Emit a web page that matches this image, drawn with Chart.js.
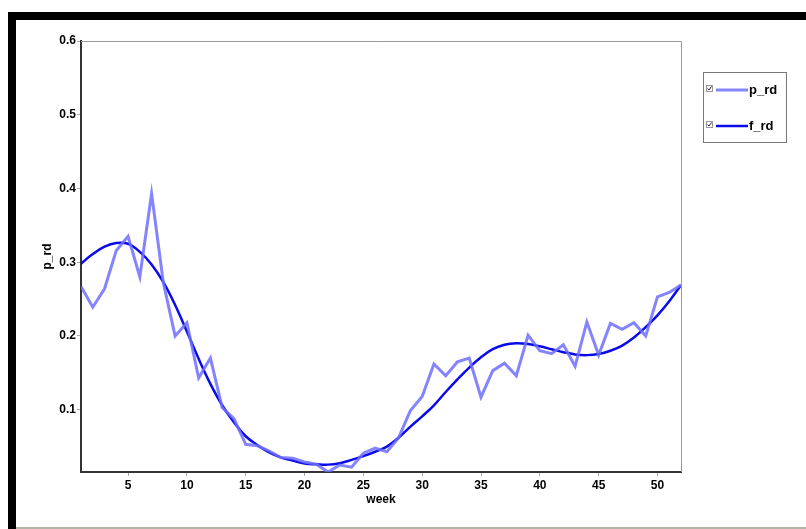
<!DOCTYPE html>
<html>
<head>
<meta charset="utf-8">
<script src="https://cdn.jsdelivr.net/npm/chart.js@4"></script>
<style>
    html, body { margin: 0; padding: 0; background: #fff; }
    #wrap { position: relative; width: 806px; height: 529px; overflow: hidden; }
    #frame-top { position: absolute; left: 8px; top: 12px; width: 798px; height: 8px; background: #000; }
    #frame-left { position: absolute; left: 8px; top: 12px; width: 8px; height: 517px; background: #000; }
    #frame-bottom { position: absolute; left: 16px; top: 527px; width: 790px; height: 2px; background: #b4b4a8; }
    canvas { position: absolute; left: 0; top: 0; }
</style>
</head>
<body>
<div id="wrap">
    <div id="frame-top"></div>
    <div id="frame-left"></div>
    <div id="frame-bottom"></div>
    <canvas id="chart" width="806" height="529"></canvas>
</div>
<script>
const weeks = [1, 2, 3, 4, 5, 6, 7, 8, 9, 10, 11, 12, 13, 14, 15, 16, 17, 18, 19, 20, 21, 22, 23, 24, 25, 26,
    27, 28, 29, 30, 31, 32, 33, 34, 35, 36, 37, 38, 39, 40, 41, 42, 43, 44, 45, 46, 47, 48, 49, 50, 51, 52];

const pRd = [0.267, 0.239, 0.264, 0.316, 0.335, 0.280, 0.393, 0.272, 0.200, 0.218, 0.143, 0.170, 0.103,
    0.088, 0.053, 0.051, 0.044, 0.035, 0.034, 0.029, 0.026, 0.0155, 0.025, 0.022, 0.041, 0.048,
    0.043, 0.062, 0.099, 0.118, 0.162, 0.146, 0.165, 0.170, 0.117, 0.153, 0.163, 0.146, 0.201,
    0.180, 0.176, 0.188, 0.159, 0.219, 0.174, 0.217, 0.209, 0.218, 0.200, 0.253, 0.259, 0.269];

const fRd = [0.298, 0.311, 0.321, 0.326, 0.325, 0.314, 0.297, 0.273, 0.242, 0.206, 0.169, 0.135, 0.106,
    0.083, 0.064, 0.052, 0.042, 0.035, 0.031, 0.027, 0.026, 0.0255, 0.0275, 0.032, 0.037, 0.043,
    0.050, 0.062, 0.077, 0.091, 0.106, 0.124, 0.141, 0.157, 0.171, 0.182, 0.188, 0.190, 0.189,
    0.186, 0.182, 0.178, 0.175, 0.174, 0.1755, 0.180, 0.187, 0.198, 0.212, 0.228, 0.247, 0.269];

const xTicks = [5, 10, 15, 20, 25, 30, 35, 40, 45, 50];
const yTicks = [0.1, 0.2, 0.3, 0.4, 0.5, 0.6];

const labelFont = { family: 'Arial, "Liberation Sans", sans-serif', size: 12, weight: 'bold' };

// grey top/right edges of the plot box
const plotBox = {
    id: 'plotBox',
    afterDatasetsDraw(chart) {
        const { ctx, chartArea: a } = chart;
        ctx.save();
        ctx.strokeStyle = '#999';
        ctx.lineWidth = 1;
        ctx.beginPath();
        ctx.moveTo(a.left, a.top + 0.5);
        ctx.lineTo(a.right + 0.5, a.top + 0.5);
        ctx.lineTo(a.right + 0.5, a.bottom);
        ctx.stroke();
        ctx.restore();
    }
};

// legend box with check marks, like the original applet
const boxLegend = {
    id: 'boxLegend',
    afterDraw(chart) {
        const ctx = chart.ctx;
        ctx.save();
        ctx.strokeStyle = '#777';
        ctx.lineWidth = 1;
        ctx.strokeRect(703.5, 72.5, 83, 70);
        const rows = [90, 126];
        chart.data.datasets.forEach((ds, i) => {
            const y = rows[i];
            ctx.strokeStyle = '#999';
            ctx.lineWidth = 1;
            ctx.strokeRect(706.5, y - 4.5, 6, 6);
            ctx.strokeStyle = '#222';
            ctx.beginPath();
            ctx.moveTo(707.5, y - 1.5);
            ctx.lineTo(709, y);
            ctx.lineTo(711.5, y - 3.5);
            ctx.stroke();
            ctx.strokeStyle = ds.borderColor;
            ctx.lineWidth = ds.borderWidth;
            ctx.beginPath();
            ctx.moveTo(716, y);
            ctx.lineTo(748, y);
            ctx.stroke();
            ctx.fillStyle = '#000';
            ctx.font = 'bold 13px Arial, "Liberation Sans", sans-serif';
            ctx.textBaseline = 'middle';
            ctx.fillText(ds.label, 749, y);
        });
        ctx.restore();
    }
};

new Chart(document.getElementById('chart'), {
    type: 'line',
    data: {
        datasets: [{
            label: 'p_rd',
            data: weeks.map((w, i) => ({ x: w, y: pRd[i] })),
            borderColor: 'rgba(110,110,255,0.85)',
            borderWidth: 3,
            pointRadius: 0,
            tension: 0
        }, {
            label: 'f_rd',
            data: weeks.map((w, i) => ({ x: w, y: fRd[i] })),
            borderColor: '#0a0aea',
            borderWidth: 2.5,
            pointRadius: 0,
            tension: 0.4
        }]
    },
    options: {
        responsive: false,
        animation: false,
        layout: { padding: { left: 0, top: 41, right: 125, bottom: 0 } },
        plugins: { legend: { display: false }, tooltip: { enabled: false } },
        scales: {
            x: {
                type: 'linear',
                min: 1,
                max: 52,
                afterBuildTicks: s => { s.ticks = xTicks.map(v => ({ value: v })); },
                afterFit: s => { s.height = 57; },
                grid: { drawOnChartArea: false, drawTicks: true, tickLength: 4, tickColor: '#aaa' },
                border: { color: '#333', width: 2 },
                ticks: { color: '#000', font: labelFont, padding: 2, maxRotation: 0 },
                title: { display: true, text: 'week', color: '#000', font: labelFont, padding: { top: 0, bottom: 22 } }
            },
            y: {
                min: Math.min(...pRd),
                max: 0.6,
                afterBuildTicks: s => { s.ticks = yTicks.map(v => ({ value: v })); },
                afterFit: s => { s.width = 81; },
                grid: { drawOnChartArea: false, drawTicks: true, tickLength: 4, tickColor: '#aaa' },
                border: { color: '#333', width: 2 },
                ticks: { color: '#000', font: labelFont, padding: 1, callback: v => v.toFixed(1) },
                title: { display: true, text: 'p_rd', color: '#000', font: labelFont, padding: { top: 40, bottom: 0 } }
            }
        }
    },
    plugins: [plotBox, boxLegend]
});
</script>
</body>
</html>
